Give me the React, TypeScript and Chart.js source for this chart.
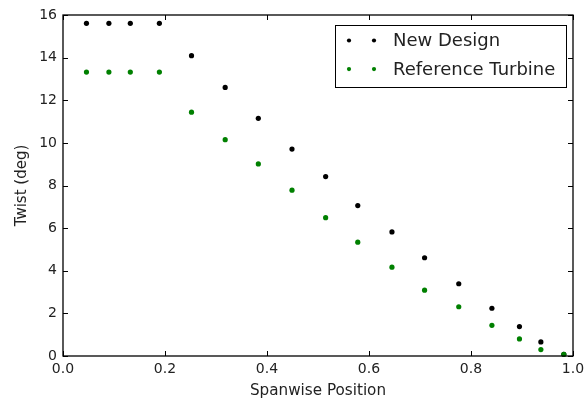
import React, { useEffect, useRef } from "react";
import { Chart, registerables } from "chart.js";

Chart.register(...registerables);

const spanPos = [0.046, 0.09, 0.132, 0.189, 0.252, 0.318, 0.383, 0.449, 0.515, 0.578, 0.645, 0.709, 0.776, 0.841, 0.895, 0.937, 0.982];
const newDesign = [15.61, 15.61, 15.61, 15.61, 14.09, 12.6, 11.15, 9.71, 8.42, 7.06, 5.82, 4.61, 3.39, 2.24, 1.38, 0.66, 0.08];
const refTurbine = [13.32, 13.32, 13.32, 13.32, 11.44, 10.15, 9.01, 7.78, 6.49, 5.34, 4.17, 3.09, 2.31, 1.44, 0.8, 0.3, 0.08];
const xTicks = [0, 0.2, 0.4, 0.6, 0.8, 1.0];
const yTicks = [0, 2, 4, 6, 8, 10, 12, 14, 16];
const seriesLabels = ["New Design", "Reference Turbine"];
const seriesColors = ["#000000", "#008000"];
const xTitle = "Spanwise Position";
const yTitle = "Twist (deg)";

const FONT = "'DejaVu Sans', sans-serif";
const TEXT = "#222222";

const framePlugin = {
  id: "mplFrame",
  afterDatasetsDraw(chart: any) {
    const { ctx, chartArea } = chart;
    const { left, right, top, bottom } = chartArea;
    const xs = chart.scales.x;
    const ys = chart.scales.y;
    ctx.save();
    ctx.strokeStyle = "#000";
    ctx.lineWidth = 1;
    ctx.beginPath();
    xTicks.forEach((v) => {
      const p = Math.round(xs.getPixelForValue(v)) + 0.5;
      ctx.moveTo(p, bottom);
      ctx.lineTo(p, bottom - 5);
      ctx.moveTo(p, top);
      ctx.lineTo(p, top + 5);
    });
    yTicks.forEach((v) => {
      const p = Math.round(ys.getPixelForValue(v)) + 0.5;
      ctx.moveTo(left, p);
      ctx.lineTo(left + 5, p);
      ctx.moveTo(right, p);
      ctx.lineTo(right - 5, p);
    });
    ctx.stroke();
    ctx.lineWidth = 1.3;
    ctx.strokeRect(left, top, right - left, bottom - top);
    ctx.restore();
  },
  afterDraw(chart: any) {
    const { ctx, chartArea } = chart;
    const w = 231;
    const h = 62;
    const bx = chartArea.right - 7 - w;
    const by = chartArea.top + 10;
    ctx.save();
    ctx.fillStyle = "#fff";
    ctx.fillRect(bx, by, w, h);
    ctx.strokeStyle = "#000";
    ctx.lineWidth = 1;
    ctx.strokeRect(bx + 0.5, by + 0.5, w, h);
    ctx.font = `18px ${FONT}`;
    ctx.textBaseline = "middle";
    ctx.textAlign = "left";
    seriesLabels.forEach((lab, i) => {
      const y = by + 15.5 + i * 28.6;
      ctx.fillStyle = seriesColors[i];
      [bx + 14, bx + 39].forEach((mx) => {
        ctx.beginPath();
        ctx.arc(mx, y, 2.1, 0, Math.PI * 2);
        ctx.fill();
      });
      ctx.fillStyle = TEXT;
      ctx.fillText(lab, bx + 58, y + 1);
    });
    ctx.restore();
  },
};

export default function App() {
  const ref = useRef<HTMLCanvasElement | null>(null);
  useEffect(() => {
    if (!ref.current) return;
    const chart = new Chart(ref.current, {
      type: "scatter",
      data: {
        datasets: [
          {
            label: seriesLabels[0],
            data: spanPos.map((x, i) => ({ x, y: newDesign[i] })),
            backgroundColor: seriesColors[0],
            borderColor: seriesColors[0],
            pointRadius: 2.6,
            borderWidth: 0,
            pointStyle: "circle",
            order: 1,
          },
          {
            label: seriesLabels[1],
            data: spanPos.map((x, i) => ({ x, y: refTurbine[i] })),
            backgroundColor: seriesColors[1],
            borderColor: seriesColors[1],
            pointRadius: 2.6,
            borderWidth: 0,
            pointStyle: "circle",
            order: 0,
          },
        ],
      },
      options: {
        responsive: false,
        animation: false,
        clip: false,
        layout: { padding: { left: 0, right: 12, top: 15, bottom: 0 } },
        plugins: { legend: { display: false }, tooltip: { enabled: false } },
        scales: {
          x: {
            type: "linear",
            min: 0,
            max: 1,
            afterBuildTicks: (s: any) => {
              s.ticks = xTicks.map((v) => ({ value: v }));
            },
            afterFit: (s: any) => {
              s.height = 47;
              s.paddingLeft = 0;
              s.paddingRight = 0;
            },
            grid: { display: false, drawTicks: false },
            border: { display: false },
            ticks: {
              autoSkip: false,
              maxRotation: 0,
              padding: 5,
              color: TEXT,
              font: { family: FONT, size: 14 },
              callback: (v: any) => Number(v).toFixed(1),
            },
            title: {
              display: true,
              text: xTitle,
              color: TEXT,
              font: { family: FONT, size: 15.2 },
              padding: { top: 0, bottom: 3 },
            },
          },
          y: {
            type: "linear",
            min: 0,
            max: 16,
            afterBuildTicks: (s: any) => {
              s.ticks = yTicks.map((v) => ({ value: v }));
            },
            afterFit: (s: any) => {
              s.width = 63;
              s.paddingTop = 0;
              s.paddingBottom = 0;
            },
            grid: { display: false, drawTicks: false },
            border: { display: false },
            ticks: {
              autoSkip: false,
              padding: 6,
              color: TEXT,
              font: { family: FONT, size: 14 },
              callback: (v: any) => String(v),
            },
            title: {
              display: true,
              text: yTitle,
              color: TEXT,
              font: { family: FONT, size: 15 },
              padding: { top: 13, bottom: 0 },
            },
          },
        },
      },
      plugins: [framePlugin],
    } as any);
    return () => chart.destroy();
  }, []);
  return (
    <div style={{ position: "absolute", left: 0, top: 0, width: 585, height: 403, background: "#fff" }}>
      <canvas ref={ref} width={585} height={403} style={{ display: "block" }} />
    </div>
  );
}
